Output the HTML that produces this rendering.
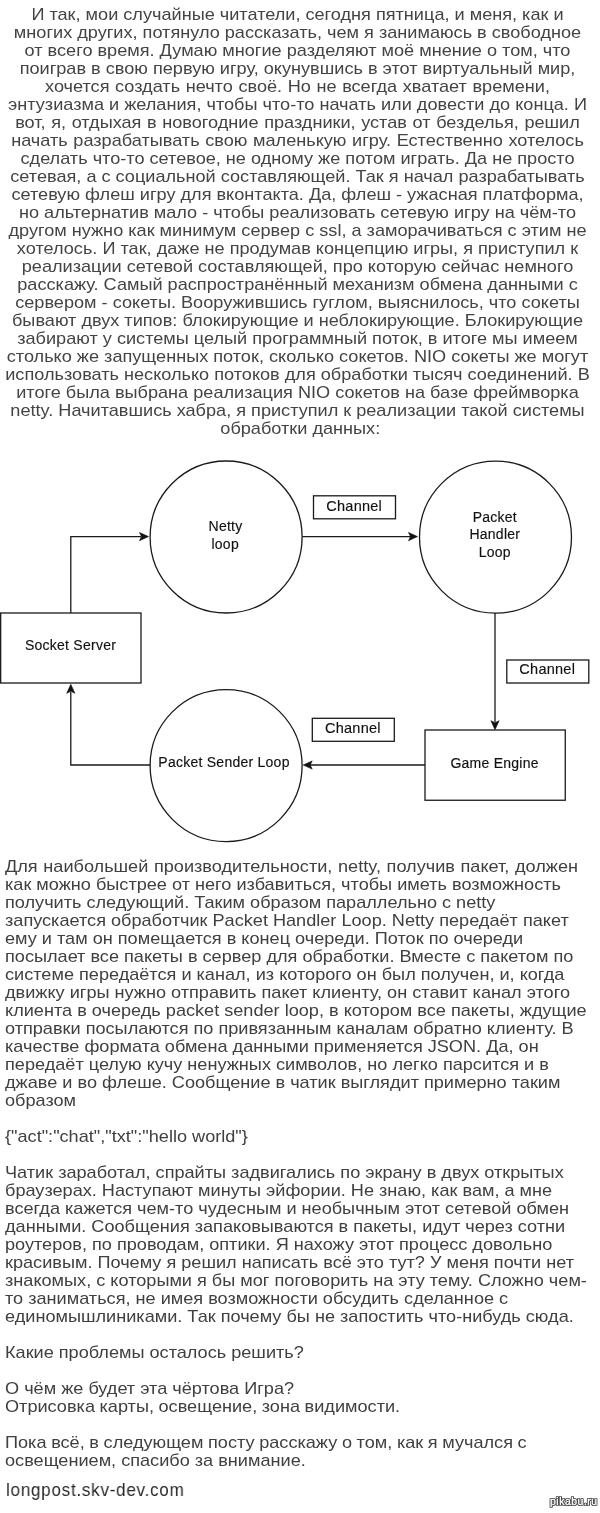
<!DOCTYPE html>
<html><head><meta charset="utf-8">
<style>
html,body{margin:0;padding:0;background:#fff;}
body{width:600px;height:1513px;position:relative;overflow:hidden;font-family:"Liberation Sans",sans-serif;}
.t{position:absolute;will-change:transform;font-size:17px;line-height:18px;letter-spacing:0;white-space:nowrap;}
#p1{left:0.35px;width:595px;top:6px;text-align:center;color:#444;transform:scaleX(1.066);transform-origin:297.5px 0;}
#p2{left:5px;top:858px;color:#404040;transform:scaleX(1.066);transform-origin:0 0;}
svg{position:absolute;left:0;top:0;will-change:transform;}
.lp{position:absolute;will-change:transform;left:6px;top:1478px;font-size:19px;line-height:24px;letter-spacing:0.8px;color:#2a2a2a;white-space:nowrap;transform:scaleX(0.9);transform-origin:0 0;}
</style></head><body>
<div class="t" id="p1">И так, мои случайные читатели, сегодня пятница, и меня, как и<br>многих других, потянуло рассказать, чем я занимаюсь в свободное<br>от всего время. Думаю многие разделяют моё мнение о том, что<br>поиграв в свою первую игру, окунувшись в этот виртуальный мир,<br><span style="word-spacing:0.53px">хочется создать нечто своё. Но не всегда хватает времени,</span><br>энтузиазма и желания, чтобы что-то начать или довести до конца. И<br><span style="word-spacing:0.54px">вот, я, отдыхая в новогодние праздники, устав от безделья, решил</span><br><span style="word-spacing:0.58px">начать разрабатывать свою маленькую игру. Естественно хотелось</span><br>сделать что-то сетевое, не одному же потом играть. Да не просто<br>сетевая, а с социальной составляющей. Так я начал разрабатывать<br>сетевую флеш игру для вконтакта. Да, флеш - ужасная платформа,<br>но альтернатив мало - чтобы реализовать сетевую игру на чём-то<br>другом нужно как минимум сервер с ssl, а заморачиваться с этим не<br>хотелось. И так, даже не продумав концепцию игры, я приступил к<br>реализации сетевой составляющей, про которую сейчас немного<br>расскажу. Самый распространённый механизм обмена данными с<br>сервером - сокеты. Вооружившись гуглом, выяснилось, что сокеты<br>бывают двух типов: блокирующие и неблокирующие. Блокирующие<br>забирают у системы целый программный поток, в итоге мы имеем<br>столько же запущенных поток, сколько сокетов. NIO сокеты же могут<br>использовать несколько потоков для обработки тысяч соединений. В<br>итоге была выбрана реализация NIO сокетов на базе фреймворка<br>netty. Начитавшись хабра, я приступил к реализации такой системы<br><span style="position:relative;left:2.6px">обработки данных:</span></div>

<svg width="600" height="860" viewBox="0 0 600 860">
<g fill="none" stroke="#1a1a1a" stroke-width="1.3">
<circle cx="226.1" cy="537" r="76"/>
<circle cx="495.5" cy="537.1" r="76"/>
<circle cx="226.1" cy="765.6" r="76"/>
<rect x="0.65" y="613" width="140.35" height="70"/>
<rect x="425" y="730" width="140.25" height="70.25"/>
<rect x="313.5" y="495.8" width="82" height="23"/>
<rect x="506.8" y="660" width="82" height="23"/>
<rect x="312.3" y="718.3" width="82" height="23"/>
<path d="M70.8 613 V536.7 H141"/>
<path d="M302.3 536.6 H411"/>
<path d="M495 613 V722"/>
<path d="M425 765 H310"/>
<path d="M150.2 765 H70.8 V692"/>
</g>
<g fill="#111" stroke="#111" stroke-width="0.6" stroke-linejoin="miter">
<path d="M148.5 536.6 L139.5 532.5 L141.5 536.6 L139.5 540.7 Z"/>
<path d="M417.5 536.6 L408.5 532.5 L410.5 536.6 L408.5 540.7 Z"/>
<path d="M495 729.7 L490.9 720.7 L495 722.7 L499.1 720.7 Z"/>
<path d="M303.2 765 L312.2 760.9 L310.2 765 L312.2 769.1 Z"/>
<path d="M70.8 684.3 L66.7 693.3 L70.8 691.3 L74.9 693.3 Z"/>
</g>
<g font-family="Liberation Sans" font-size="14" fill="#111" stroke="#111" stroke-width="0.15" text-anchor="middle" letter-spacing="0.25">
<text x="225.5" y="531">Netty</text>
<text x="225.2" y="548.5">loop</text>
<text x="494.8" y="521.5">Packet</text>
<text x="494.8" y="539">Handler</text>
<text x="494.8" y="556.5">Loop</text>
<text x="224" y="766.75">Packet Sender Loop</text>
<text x="70.5" y="649.5">Socket Server</text>
<text x="494.6" y="768">Game Engine</text>
<text x="354.2" y="510.8" font-size="14.5">Channel</text>
<text x="547.25" y="674.3" font-size="14.5">Channel</text>
<text x="352.9" y="733" font-size="14.5">Channel</text>
</g>
</svg>

<div class="t" id="p2"><span style="word-spacing:0.56px">Для наибольшей производительности, netty, получив пакет, должен</span><br>как можно быстрее от него избавиться, чтобы иметь возможность<br>получить следующий. Таким образом параллельно с netty<br>запускается обработчик Packet Handler Loop. Netty передаёт пакет<br>ему и там он помещается в конец очереди. Поток по очереди<br>посылает все пакеты в сервер для обработки. Вместе с пакетом по<br>системе передаётся и канал, из которого он был получен, и, когда<br>движку игры нужно отправить пакет клиенту, он ставит канал этого<br>клиента в очередь packet sender loop, в котором все пакеты, ждущие<br>отправки посылаются по привязанным каналам обратно клиенту. В<br>качестве формата обмена данными применяется JSON. Да, он<br>передаёт целую кучу ненужных символов, но легко парсится и в<br>джаве и во флеше. Сообщение в чатик выглядит примерно таким<br>образом<br><br>{"act":"chat","txt":"hello world"}<br><br>Чатик заработал, спрайты задвигались по экрану в двух открытых<br>браузерах. Наступают минуты эйфории. Не знаю, как вам, а мне<br>всегда кажется чем-то чудесным и необычным этот сетевой обмен<br>данными. Сообщения запаковываются в пакеты, идут через сотни<br>роутеров, по проводам, оптики. Я нахожу этот процесс довольно<br>красивым. Почему я решил написать всё это тут? У меня почти нет<br>знакомых, с которыми я бы мог поговорить на эту тему. Сложно чем-<br>то заниматься, не имея возможности обсудить сделанное с<br>единомышлиниками. Так почему бы не запостить что-нибудь сюда.<br><br>Какие проблемы осталось решить?<br><br>О чём же будет эта чёртова Игра?<br><span style="word-spacing:-0.45px">Отрисовка карты, освещение, зона видимости.</span><br><br><span style="word-spacing:-0.38px">Пока всё, в следующем посту расскажу о том, как я мучался с</span><br>освещением, спасибо за внимание.</div>

<div class="lp">longpost.skv-dev.com</div>
<svg style="position:absolute;left:540px;top:1488px" width="60" height="25" viewBox="540 1488 60 25"><g font-family="Liberation Sans" font-size="10.4" letter-spacing="0.55"><text x="550" y="1505" fill="#444" stroke="#444" stroke-width="2.2" stroke-linejoin="round">pikabu.ru</text><text x="550" y="1505" fill="#fff" stroke="#fff" stroke-width="0.3">pikabu.ru</text></g></svg>
</body></html>
